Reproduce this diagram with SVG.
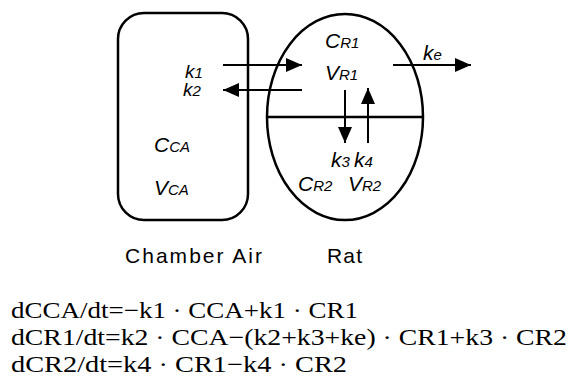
<svg xmlns="http://www.w3.org/2000/svg" width="569" height="383" viewBox="0 0 569 383">
<defs>
<marker id="ah" markerUnits="userSpaceOnUse" markerWidth="16" markerHeight="14" refX="16" refY="7" orient="auto">
<path d="M0,0 L16,7 L0,14 z" fill="#000"/>
</marker>
</defs>
<style>
.shape{fill:none;stroke:#000;stroke-width:2.5}
.conn{fill:none;stroke:#000;stroke-width:2;marker-end:url(#ah)}
.lbl{font-family:"Liberation Sans",Arial,sans-serif;font-style:italic;font-size:21px;fill:#000}
.kk{font-size:19px}
.sub{font-size:15px}
.cap{font-family:"Liberation Sans",Arial,sans-serif;font-size:21px;fill:#000}
.eq{font-family:"Liberation Serif","Times New Roman",serif;font-size:23px;fill:#000}
</style>
<g id="chamber-air">
<rect class="shape" x="118" y="13" width="130" height="207" rx="26" ry="26"/>
<text class="lbl kk" x="185" y="78">k<tspan class="sub">1</tspan><tspan x="183" dy="18">k</tspan><tspan class="sub">2</tspan></text>
<text class="lbl" x="154" y="152">C<tspan class="sub">CA</tspan></text>
<text class="lbl" x="154" y="195">V<tspan class="sub">CA</tspan></text>
<text class="cap" x="125" y="263" textLength="137" lengthAdjust="spacing">Chamber Air</text>
</g>
<g id="rat">
<ellipse class="shape" cx="345" cy="117" rx="78" ry="103"/>
<line x1="267" y1="117" x2="423" y2="117" stroke="#000" stroke-width="2.5"/>
<text class="lbl" x="325" y="48">C<tspan class="sub">R1</tspan></text>
<text class="lbl" x="325" y="80">V<tspan class="sub">R1</tspan></text>
<text class="lbl" x="331" y="167">k<tspan class="sub">3</tspan></text>
<text class="lbl" x="354" y="167">k<tspan class="sub">4</tspan></text>
<text class="lbl" x="298" y="191">C<tspan class="sub">R2</tspan></text>
<text class="lbl" x="348" y="191">V<tspan class="sub">R2</tspan></text>
<text class="cap" x="327" y="263" textLength="35" lengthAdjust="spacing">Rat</text>
</g>
<g id="connectors">
<line class="conn" x1="223" y1="65" x2="302" y2="65"/>
<line class="conn" x1="302" y1="90" x2="223" y2="90"/>
<line class="conn" x1="393" y1="65" x2="471" y2="65"/>
<line class="conn" x1="345" y1="90" x2="345" y2="143"/>
<line class="conn" x1="368" y1="143" x2="368" y2="88"/>
<text class="lbl" x="423" y="60">k<tspan class="sub">e</tspan></text>
</g>
<g id="equations">
<text class="eq" x="11" y="318" textLength="347" lengthAdjust="spacingAndGlyphs">dCCA/dt=−k1 · CCA+k1 · CR1</text>
<text class="eq" x="11" y="345" textLength="556" lengthAdjust="spacingAndGlyphs">dCR1/dt=k2 · CCA−(k2+k3+ke) · CR1+k3 · CR2</text>
<text class="eq" x="11" y="372" textLength="336" lengthAdjust="spacingAndGlyphs">dCR2/dt=k4 · CR1−k4 · CR2</text>
</g>
</svg>
